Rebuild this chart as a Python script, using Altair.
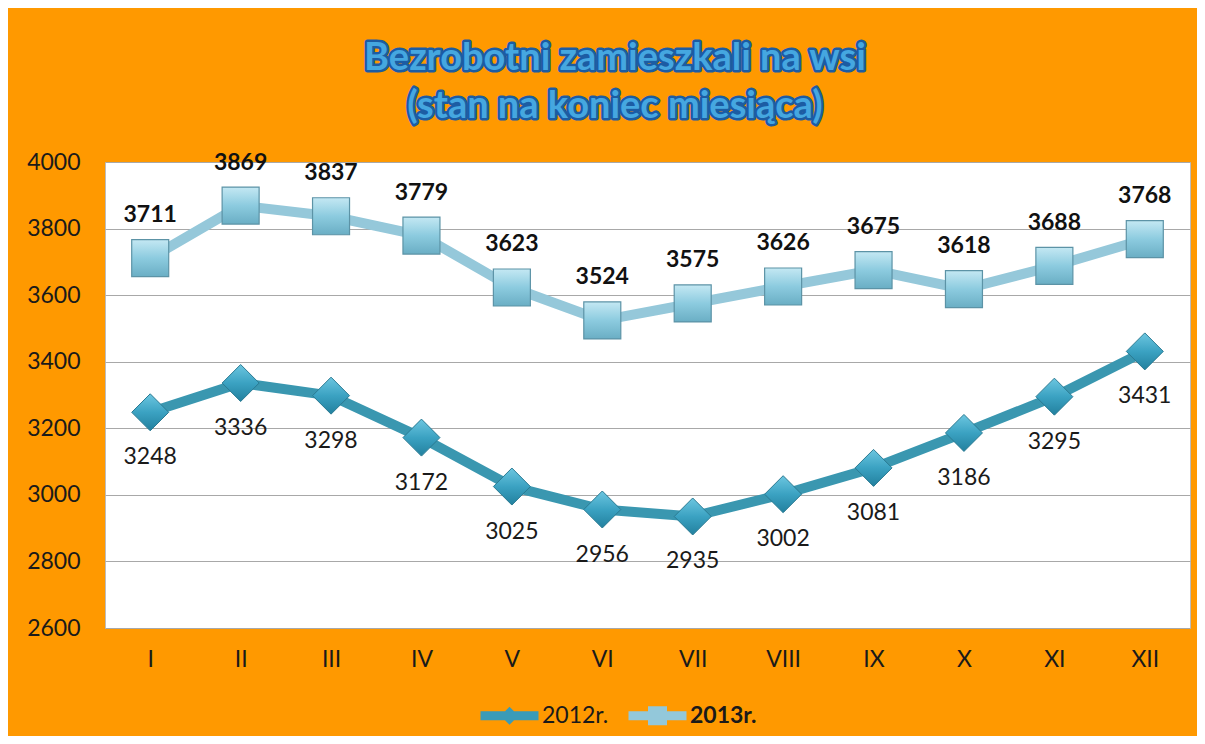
import altair as alt
import pandas as pd

months = ["I", "II", "III", "IV", "V", "VI", "VII", "VIII", "IX", "X", "XI", "XII"]
series_names = ["2012r.", "2013r."]
values_2012 = [3248, 3336, 3298, 3172, 3025, 2956, 2935, 3002, 3081, 3186, 3295, 3431]
values_2013 = [3711, 3869, 3837, 3779, 3623, 3524, 3575, 3626, 3675, 3618, 3688, 3768]
y_ticks = [2600, 2800, 3000, 3200, 3400, 3600, 3800, 4000]
title_lines = ["Bezrobotni zamieszkali na wsi", "(stan na koniec miesiąca)"]

rows = []
for m, v in zip(months, values_2012):
    rows.append({"month": m, "series": series_names[0], "value": v})
for m, v in zip(months, values_2013):
    rows.append({"month": m, "series": series_names[1], "value": v})
df = pd.DataFrame(rows)

FONT = "Lato"
FS = 23
C12_LINE = "#3a97b0"
C13_LINE = "#95c8da"

x_enc = alt.X("month:O", sort=months, scale=alt.Scale(type="point", padding=0.5),
              axis=alt.Axis(title=None, labelAngle=0, ticks=False, domain=False, grid=False,
                            labelPadding=20, labelFont=FONT, labelFontSize=FS, labelColor="#1a1a1a"))
y_enc = alt.Y("value:Q", scale=alt.Scale(domain=[2600, 4000], nice=False, zero=False),
              axis=alt.Axis(title=None, values=y_ticks, format="d", ticks=False, domain=False, grid=True,
                            gridColor="#a8a8a8", gridWidth=1, labelPadding=25,
                            labelFont=FONT, labelFontSize=FS, labelColor="#1a1a1a"))

base = alt.Chart(df).encode(x=x_enc, y=y_enc)

f12 = alt.datum.series == series_names[0]
f13 = alt.datum.series == series_names[1]

line12 = base.transform_filter(f12).mark_line(color=C12_LINE, strokeWidth=10, strokeJoin="round")
line13 = base.transform_filter(f13).mark_line(color=C13_LINE, strokeWidth=10, strokeJoin="round")

grad12 = {"gradient": "linear", "x1": 0, "x2": 0, "y1": 0, "y2": 1,
          "stops": [{"offset": 0, "color": "#6cc6e0"}, {"offset": 0.5, "color": "#3ba2c2"},
                    {"offset": 1, "color": "#22809e"}]}
grad13 = {"gradient": "linear", "x1": 0, "x2": 0, "y1": 0, "y2": 1,
          "stops": [{"offset": 0, "color": "#c4e8f3"}, {"offset": 0.5, "color": "#8ccbdf"},
                    {"offset": 1, "color": "#6aaec4"}]}

pts12 = base.transform_filter(f12).mark_point(shape="diamond", filled=True, size=1369, fill=grad12,
                                              stroke="#2a7a92", strokeWidth=1, opacity=1)
pts13 = base.transform_filter(f13).mark_point(shape="square", filled=True, size=1369, fill=grad13,
                                              stroke="#5c93a6", strokeWidth=1.2, opacity=1)

lab12 = base.transform_filter(f12).mark_text(dy=45, font=FONT, fontSize=FS, color="#1a1a1a",
                                             baseline="middle").encode(text="value:Q")
lab13 = base.transform_filter(f13).mark_text(dy=-43, font=FONT, fontSize=FS, fontWeight="bold",
                                             color="#111111", baseline="middle").encode(text="value:Q")

path12 = "M-2.9,-0.45L2.9,-0.45L2.9,0.45L-2.9,0.45Z M0,-0.9L0.9,0L0,0.9L-0.9,0Z"
path13 = "M-2.9,-0.45L2.9,-0.45L2.9,0.45L-2.9,0.45Z M-0.95,-0.95L0.95,-0.95L0.95,0.95L-0.95,0.95Z"

leg = alt.Legend(title=None, orient="none", legendX=393, legendY=542, direction="horizontal",
                 padding=0, columnPadding=19, labelOffset=21, symbolSize=400, symbolStrokeWidth=0,
                 labelFont=FONT, labelFontSize=FS, labelColor="#1a1a1a",
                 labelFontWeight=alt.ExprRef(expr="datum.label == '2013r.' ? 'bold' : 'normal'"))

legend_layer = alt.Chart(df).transform_filter("false").mark_point(filled=True, size=400, opacity=1).encode(
    x=x_enc, y=y_enc,
    color=alt.Color("series:N", scale=alt.Scale(domain=series_names, range=["#3a9bb8", "#93c8da"]), legend=leg),
    shape=alt.Shape("series:N", scale=alt.Scale(domain=series_names, range=[path12, path13]), legend=leg),
)

tdata = alt.Data(values=[{"k": 0}])
TFS = 38
title_outline = alt.Chart(tdata).mark_text(
    text=title_lines, font=FONT, fontSize=TFS, fontWeight="bold", lineHeight=48,
    fill="#1c5ca3", stroke="#1c5ca3", strokeWidth=5, strokeJoin="round", align="center",
    baseline="alphabetic").encode(x=alt.value(510), y=alt.value(-92))
title_fill = alt.Chart(tdata).mark_text(
    text=title_lines, font=FONT, fontSize=TFS, fontWeight="bold", lineHeight=48,
    fill="#45a7e0", align="center", baseline="alphabetic").encode(x=alt.value(510), y=alt.value(-92))

chart = alt.layer(line13, line12, pts13, pts12, lab13, lab12, legend_layer, title_outline, title_fill).properties(
    width=1085, height=466,
    autosize=alt.AutoSizeParams(type="none"),
    padding={"left": 97, "top": 154, "right": 7, "bottom": 108},
    background="#FF9900",
).configure_view(fill="white", stroke="#bcbcbc", strokeWidth=1)

chart.save("out.html", embed_options={"renderer": "svg", "actions": False})
